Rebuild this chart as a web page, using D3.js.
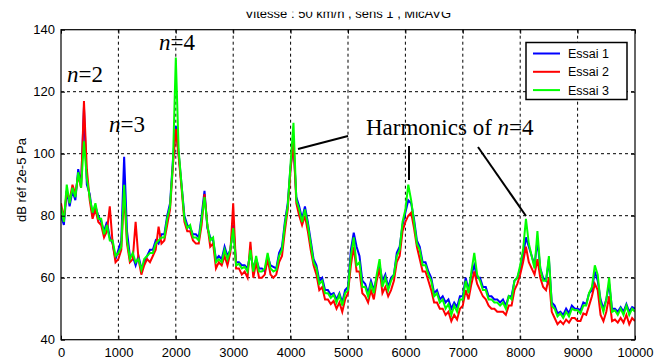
<!DOCTYPE html>
<html>
<head>
<meta charset="utf-8">
<script src="https://cdn.jsdelivr.net/npm/d3@7"></script>
<style>
  body { margin: 0; background: #fff; }
  svg { display: block; font-family: "Liberation Sans", Arial, sans-serif; }
</style>
</head>
<body>
<svg id="chart"></svg>
<script>
// sampling grid of the spectrum (Hz)
const freqs = d3.range(0, 10001, 50);

// levels in dB, one value per frequency above (10 per row = 500 Hz)
const essai1 = [
  80, 77, 88, 83, 88, 85, 95, 90, 115, 90,
  87, 80, 83, 80, 78, 75, 78, 73, 71, 66,
  69, 72, 99, 75, 67, 67, 64, 67, 63, 65,
  67, 69, 69, 72, 71, 74, 74, 80, 84, 98,
  109, 100, 90, 80, 77, 76, 74, 74, 73, 80,
  88, 76, 73, 72, 66, 67, 66, 70, 67, 69,
  77, 65, 65, 64, 64, 63, 68, 63, 66, 63,
  63, 62, 67, 64, 63.5, 63, 68, 70, 78, 84,
  96, 103, 86, 83, 79, 83, 78, 72, 66, 64,
  59, 60, 56, 56, 54.5, 55, 53, 55, 52, 56,
  57, 69, 74.5, 70, 67, 59, 58, 55, 59, 56,
  60, 64, 59, 61, 57, 60, 61, 68, 70, 77,
  81, 85, 84, 79, 72, 70, 65, 65, 62, 60,
  55, 56, 53, 54, 52, 53, 50, 52, 50.5, 54,
  54, 60, 56, 61, 64, 60, 60, 57, 57, 54,
  54, 53, 53, 52, 53, 51, 54, 54, 59, 60,
  63, 67, 73, 70, 67, 64, 72, 63, 60, 59,
  66, 52, 51, 48.5, 49, 48, 50, 48.5, 51, 50,
  50, 49.5, 52, 51.5, 55, 56, 62, 59, 53, 50,
  53, 58, 50, 50, 49, 50.5, 49, 51.5, 49, 50.5,
  50
];
const essai2 = [
  84, 79, 88, 85, 90, 87, 93, 89, 117, 95,
  85, 79, 82, 78, 77, 73, 75, 83, 71, 65,
  66, 69, 87, 71, 65, 66, 78, 66, 61, 64,
  66, 65, 67, 69, 76.5, 71, 72, 77, 82, 96,
  108, 99, 89, 78, 75, 75, 72, 71, 71, 77,
  87, 77, 70, 71, 63, 65, 64, 67, 64, 68,
  84, 63, 63, 61, 62, 60, 71.6, 60, 65, 60,
  60, 61, 66, 61, 60, 61, 65, 67, 75, 82,
  95, 104, 84, 80, 77, 80, 75, 69, 64, 61,
  56, 57, 53, 53, 51.5, 52.5, 50, 52, 49, 53,
  55, 64, 70, 62, 62, 55, 54, 52, 56, 53,
  59, 63, 55, 57, 54, 56, 59, 65, 67, 75,
  78, 80, 81, 76, 70, 66, 62, 62, 59, 56,
  52, 52, 50, 50, 48, 49, 46, 48, 46.5, 50,
  51, 56, 53, 58, 62, 58, 56, 54, 53, 51,
  50, 50, 49, 49, 49, 48, 51, 51, 56, 58,
  61, 65, 70, 65, 63, 61, 66, 60, 57, 56,
  60, 49, 47, 45, 46, 45, 46.5, 45.5, 47, 47,
  46, 46, 48.5, 48, 51, 54, 58, 56, 48, 46,
  49, 54, 46, 46.5, 45.5, 47, 45.5, 48, 45, 47,
  46
];
const essai3 = [
  83, 78, 90, 84, 89, 86, 94, 89, 104, 92,
  86, 81, 84, 79, 79, 74, 77, 72, 72, 67,
  68, 70, 90, 72, 66, 68, 65, 66, 62.5, 66,
  67, 68, 68, 71, 72, 73, 73, 79, 83, 97,
  131, 101, 90, 79, 76, 77, 73, 73, 72, 79,
  86, 77, 72, 73, 65, 66, 65, 69, 66, 69,
  76, 64, 64.5, 63, 63.5, 62, 69, 62, 67, 62,
  62, 63, 68, 63, 62, 62.5, 67, 69, 77, 83,
  97, 110, 85, 82, 78, 82, 77, 71, 65, 63,
  58, 59, 55, 55, 53.5, 54.5, 52, 54.5, 51, 55,
  56, 67, 73, 64, 65, 57, 57, 54, 58, 55,
  61, 66, 57, 60, 56, 59, 61, 67, 69, 78,
  82, 90, 85, 78, 71, 69, 64, 64, 61, 59,
  54, 55, 52, 53, 50, 51.5, 48, 51, 49, 53,
  53, 59, 55, 62, 68, 61, 59, 56, 56, 53,
  53, 52, 52, 51, 52, 50, 54, 53, 59, 60,
  64, 69, 79, 71, 67, 63, 75, 63, 59, 59,
  67, 51, 50, 47.5, 48.5, 47, 49, 47.5, 50, 49.5,
  49.5, 48.5, 51, 51, 55, 57, 64, 61, 52, 49,
  53, 60, 49, 49.5, 48, 50, 48, 51, 48, 50,
  49
];

const seriesNames = ["Essai 1", "Essai 2", "Essai 3"];
const seriesColors = ["#0000ff", "#ff0000", "#00ff00"];
const xTicks = [0, 1000, 2000, 3000, 4000, 5000, 6000, 7000, 8000, 9000, 10000];
const yTicks = [40, 60, 80, 100, 120, 140];
const title = "Vitesse : 50 km/h , sens 1 , MicAVG";
const yLabel = "dB réf 2e-5 Pa";

// set the dimensions and margins of the graph
const svgWidth = 665;
const svgHeight = 360;
const margin = { top: 29.7, right: 30, bottom: 20.3, left: 61 };
const width = svgWidth - margin.left - margin.right;
const height = svgHeight - margin.top - margin.bottom;

const svg = d3.select("#chart")
  .attr("width", svgWidth)
  .attr("height", svgHeight);

const g = svg.append("g")
  .attr("transform", "translate(" + margin.left + "," + margin.top + ")");

const x = d3.scaleLinear().domain([0, 10000]).range([0, width]);
const y = d3.scaleLinear().domain([40, 140]).range([height, 0]);

// dashed grid
g.append("g")
  .selectAll("line")
  .data(xTicks.slice(1, -1))
  .enter()
  .append("line")
  .attr("x1", (d) => x(d))
  .attr("x2", (d) => x(d))
  .attr("y1", 0)
  .attr("y2", height)
  .attr("stroke", "#000")
  .attr("stroke-width", 1)
  .attr("stroke-dasharray", "3,3");

g.append("g")
  .selectAll("line")
  .data(yTicks.slice(1, -1))
  .enter()
  .append("line")
  .attr("x1", 0)
  .attr("x2", width)
  .attr("y1", (d) => y(d))
  .attr("y2", (d) => y(d))
  .attr("stroke", "#000")
  .attr("stroke-width", 1)
  .attr("stroke-dasharray", "3,3");

// curves, green drawn last
const line = d3.line()
  .x((d) => x(d[0]))
  .y((d) => y(d[1]));

const clip = svg.append("clipPath").attr("id", "plot-clip");
clip.append("rect").attr("width", width).attr("height", height);

[essai1, essai2, essai3].forEach(function (values, i) {
  g.append("path")
    .datum(freqs.map((f, j) => [f, values[j]]))
    .attr("clip-path", "url(#plot-clip)")
    .attr("fill", "none")
    .attr("stroke", seriesColors[i])
    .attr("stroke-width", 2)
    .attr("d", line);
});

// axes (MATLAB style: ticks pointing inward, full box)
const xAxis = d3.axisBottom(x).tickValues(xTicks).tickFormat(d3.format("d"))
  .tickSizeInner(-4).tickSizeOuter(0).tickPadding(8);
const yAxis = d3.axisLeft(y).tickValues(yTicks).tickSizeInner(-4).tickSizeOuter(0).tickPadding(6);

const gx = g.append("g")
  .attr("transform", "translate(0," + height + ")")
  .call(xAxis);
const gy = g.append("g").call(yAxis);

g.append("g").call(d3.axisTop(x).tickValues(xTicks).tickSizeInner(-4).tickSizeOuter(0).tickFormat(""));
g.append("g")
  .attr("transform", "translate(" + width + ",0)")
  .call(d3.axisRight(y).tickValues(yTicks).tickSizeInner(-4).tickSizeOuter(0).tickFormat(""));

g.selectAll(".domain").remove();
g.selectAll(".tick line").attr("stroke", "#000");
[gx, gy].forEach((a) => a.selectAll("text")
  .attr("fill", "#000")
  .style("font-size", "13px")
  .style("font-family", "'Liberation Sans', Arial, sans-serif"));

g.append("rect")
  .attr("width", width)
  .attr("height", height)
  .attr("fill", "none")
  .attr("stroke", "#000")
  .attr("stroke-width", 1.2);

// title, its upper part is cut off in the source picture
svg.append("clipPath").attr("id", "title-clip")
  .append("rect").attr("x", 0).attr("y", 11.7).attr("width", svgWidth).attr("height", 20);

svg.append("text")
  .attr("clip-path", "url(#title-clip)")
  .attr("x", margin.left + width / 2)
  .attr("y", 17.5)
  .attr("text-anchor", "middle")
  .style("font-size", "13px")
  .text(title);

svg.append("text")
  .attr("transform", "rotate(-90)")
  .attr("x", -180)
  .attr("y", 26)
  .attr("text-anchor", "middle")
  .style("font-size", "13px")
  .text(yLabel);

// annotations
const serif = "'Liberation Serif', 'Times New Roman', serif";
function harmonicLabel(xPos, yPos, prefix, order) {
  const t = svg.append("text")
    .attr("x", xPos)
    .attr("y", yPos)
    .style("font-family", serif)
    .style("font-size", "23px");
  if (prefix) t.append("tspan").text(prefix);
  t.append("tspan").style("font-style", "italic").text("n");
  t.append("tspan").text("=" + order);
}
harmonicLabel(67, 82, null, 2);
harmonicLabel(109, 132, null, 3);
harmonicLabel(159, 50, null, 4);
harmonicLabel(366, 135, "Harmonics of ", 4);

const pointers = [
  [[298, 149], [348, 136]],
  [[409, 146], [409, 180]],
  [[478, 147], [526, 216]]
];
pointers.forEach(function (p) {
  svg.append("line")
    .attr("x1", p[0][0]).attr("y1", p[0][1])
    .attr("x2", p[1][0]).attr("y2", p[1][1])
    .attr("stroke", "#000")
    .attr("stroke-width", 2);
});

// legend
const legend = svg.append("g").attr("transform", "translate(526,42.5)");
legend.append("rect")
  .attr("width", 101)
  .attr("height", 57)
  .attr("fill", "#fff")
  .attr("stroke", "#000")
  .attr("stroke-width", 1.5);

seriesNames.forEach(function (name, i) {
  const yy = 11 + i * 18.3;
  legend.append("line")
    .attr("x1", 7).attr("x2", 34)
    .attr("y1", yy).attr("y2", yy)
    .attr("stroke", seriesColors[i])
    .attr("stroke-width", 2);
  legend.append("text")
    .attr("x", 42)
    .attr("y", yy + 4.5)
    .style("font-size", "12.5px")
    .text(name);
});
</script>
</body>
</html>
